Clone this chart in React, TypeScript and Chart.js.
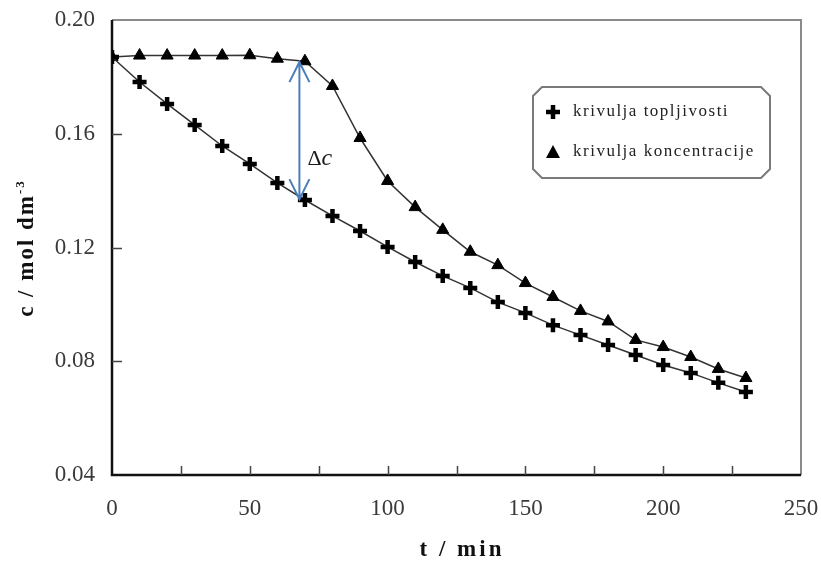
import React, { useEffect, useRef } from "react";
import { Chart, registerables } from "chart.js";

Chart.register(...registerables);

const times = [0, 10, 20, 30, 40, 50, 60, 70, 80, 90, 100, 110, 120, 130, 140, 150, 160, 170, 180, 190, 200, 210, 220, 230];
const solubility = [0.187, 0.1782, 0.1705, 0.1631, 0.1557, 0.1494, 0.1427, 0.1367, 0.1311, 0.1258, 0.1202, 0.1149, 0.11, 0.1058, 0.1008, 0.097, 0.0927, 0.0892, 0.0857, 0.0822, 0.0787, 0.0759, 0.0724, 0.0692];
const concentration = [0.187, 0.1875, 0.1875, 0.1875, 0.1875, 0.1876, 0.1864, 0.1855, 0.1768, 0.1585, 0.1434, 0.1342, 0.1262, 0.1185, 0.1138, 0.1075, 0.1026, 0.0977, 0.094, 0.0875, 0.085, 0.0815, 0.0773, 0.0741];
const seriesNames = ["krivulja topljivosti", "krivulja koncentracije"];
const xTitle = "t / min";
const yTitleMain = "c / mol dm";
const yTitleSup = "-3";
const deltaLabel = ["Δ", "c"];
const deltaArrow = { t: 68, top: 0.1852, bottom: 0.137 };

const SERIF = '"Liberation Serif", "Times New Roman", serif';

const decorPlugin = {
  id: "decor",
  beforeDatasetsDraw(chart: any) {
    const { ctx, chartArea: a, scales } = chart;
    const xs = scales.x;
    const ys = scales.y;
    ctx.save();
    ctx.strokeStyle = "#8a8a8a";
    ctx.lineWidth = 2;
    ctx.beginPath();
    ctx.moveTo(a.left, a.top);
    ctx.lineTo(a.right, a.top);
    ctx.lineTo(a.right, a.bottom);
    ctx.stroke();
    ctx.strokeStyle = "#111";
    ctx.lineWidth = 2.5;
    ctx.beginPath();
    ctx.moveTo(a.left, a.top);
    ctx.lineTo(a.left, a.bottom);
    ctx.lineTo(a.right, a.bottom);
    ctx.stroke();
    ctx.strokeStyle = "#444";
    ctx.lineWidth = 1.5;
    ctx.beginPath();
    for (let v = 0.08; v < 0.2; v += 0.04) {
      const y = Math.round(ys.getPixelForValue(v)) + 0.5;
      ctx.moveTo(a.left, y);
      ctx.lineTo(a.left + 10, y);
    }
    for (let t = 25; t < 250; t += 25) {
      const x = Math.round(xs.getPixelForValue(t)) + 0.5;
      ctx.moveTo(x, a.bottom);
      ctx.lineTo(x, a.bottom - 9);
    }
    ctx.stroke();
    ctx.restore();
  },
  afterDraw(chart: any) {
    const { ctx, chartArea: a, scales } = chart;
    const xs = scales.x;
    const ys = scales.y;
    ctx.save();
    ctx.fillStyle = "#111";
    ctx.font = `bold 23px ${SERIF}`;
    (ctx as any).letterSpacing = "3px";
    ctx.textAlign = "center";
    ctx.textBaseline = "alphabetic";
    ctx.fillText(xTitle, 462, 556);

    (ctx as any).letterSpacing = "2px";
    ctx.save();
    ctx.translate(33, 248);
    ctx.rotate(-Math.PI / 2);
    ctx.font = `bold 23px ${SERIF}`;
    const w1 = ctx.measureText(yTitleMain).width;
    ctx.font = `bold 13px ${SERIF}`;
    const w2 = ctx.measureText(yTitleSup).width;
    const start = -(w1 + w2) / 2;
    ctx.textAlign = "left";
    ctx.font = `bold 23px ${SERIF}`;
    ctx.fillText(yTitleMain, start, 0);
    ctx.font = `bold 13px ${SERIF}`;
    ctx.fillText(yTitleSup, start + w1, -9);
    ctx.restore();
    (ctx as any).letterSpacing = "0px";

    const ax = xs.getPixelForValue(deltaArrow.t);
    const ay1 = ys.getPixelForValue(deltaArrow.top);
    const ay2 = ys.getPixelForValue(deltaArrow.bottom);
    ctx.strokeStyle = "#4a7ebb";
    ctx.lineWidth = 2;
    ctx.beginPath();
    ctx.moveTo(ax, ay1);
    ctx.lineTo(ax, ay2);
    ctx.moveTo(ax - 10, ay1 + 20);
    ctx.lineTo(ax, ay1);
    ctx.lineTo(ax + 10, ay1 + 20);
    ctx.moveTo(ax - 10, ay2 - 20);
    ctx.lineTo(ax, ay2);
    ctx.lineTo(ax + 10, ay2 - 20);
    ctx.stroke();
    ctx.fillStyle = "#1a1a1a";
    ctx.textAlign = "left";
    ctx.font = `22px ${SERIF}`;
    const dx = ax + 8;
    ctx.fillText(deltaLabel[0], dx, 165);
    const dw = ctx.measureText(deltaLabel[0]).width;
    ctx.font = `italic 24px ${SERIF}`;
    ctx.fillText(deltaLabel[1], dx + dw, 165);

    const L = 533, T = 87, R = 770, B = 178, c = 9;
    ctx.strokeStyle = "#7a7a7a";
    ctx.lineWidth = 2;
    ctx.beginPath();
    ctx.moveTo(L + c, T);
    ctx.lineTo(R - c, T);
    ctx.lineTo(R, T + c);
    ctx.lineTo(R, B - c);
    ctx.lineTo(R - c, B);
    ctx.lineTo(L + c, B);
    ctx.lineTo(L, B - c);
    ctx.lineTo(L, T + c);
    ctx.closePath();
    ctx.stroke();
    ctx.strokeStyle = "#000";
    ctx.lineWidth = 4.5;
    ctx.beginPath();
    ctx.moveTo(553 - 7, 112);
    ctx.lineTo(553 + 7, 112);
    ctx.moveTo(553, 112 - 7);
    ctx.lineTo(553, 112 + 7);
    ctx.stroke();
    ctx.fillStyle = "#000";
    ctx.beginPath();
    ctx.moveTo(553, 145);
    ctx.lineTo(560, 158);
    ctx.lineTo(546, 158);
    ctx.closePath();
    ctx.fill();
    ctx.fillStyle = "#222";
    ctx.font = `17px ${SERIF}`;
    (ctx as any).letterSpacing = "1.5px";
    ctx.textBaseline = "middle";
    ctx.fillText(seriesNames[0], 573, 112);
    ctx.fillText(seriesNames[1], 573, 152);
    (ctx as any).letterSpacing = "0px";
    ctx.restore();
  },
};

export default function App() {
  const ref = useRef<HTMLCanvasElement | null>(null);
  useEffect(() => {
    if (!ref.current) return;
    const chart = new Chart(ref.current, {
      type: "line",
      data: {
        datasets: [
          {
            label: seriesNames[0],
            data: times.map((t, i) => ({ x: t, y: solubility[i] })),
            borderColor: "#333",
            borderWidth: 1.5,
            pointStyle: "cross",
            pointRadius: 7,
            pointBorderWidth: 4.5,
            pointBorderColor: "#000",
            pointBackgroundColor: "#000",
            tension: 0,
          },
          {
            label: seriesNames[1],
            data: times.map((t, i) => ({ x: t, y: concentration[i] })),
            borderColor: "#333",
            borderWidth: 1.5,
            pointStyle: "triangle",
            pointRadius: 7,
            pointBorderWidth: 1,
            pointBorderColor: "#000",
            pointBackgroundColor: "#000",
            tension: 0,
          },
        ],
      },
      options: {
        responsive: false,
        animation: false,
        layout: { padding: { left: 0, top: 20, right: 20, bottom: 0 } },
        plugins: { legend: { display: false }, tooltip: { enabled: false } },
        scales: {
          x: {
            type: "linear",
            min: 0,
            max: 250,
            border: { display: false },
            grid: { display: false, drawTicks: false },
            ticks: {
              stepSize: 50,
              padding: 20,
              color: "#3a3a3a",
              font: { family: SERIF, size: 23 },
              maxRotation: 0,
            },
            afterFit: (s: any) => {
              s.height = 88;
              s.paddingLeft = 0;
              s.paddingRight = 0;
            },
          },
          y: {
            type: "linear",
            min: 0.04,
            max: 0.2,
            border: { display: false },
            grid: { display: false, drawTicks: false },
            ticks: {
              stepSize: 0.04,
              padding: 17,
              color: "#3a3a3a",
              font: { family: SERIF, size: 23 },
              callback: (v: any) => Number(v).toFixed(2),
            },
            afterFit: (s: any) => {
              s.width = 112;
              s.paddingTop = 0;
              s.paddingBottom = 0;
            },
          },
        },
      },
      plugins: [decorPlugin],
    });
    return () => chart.destroy();
  }, []);
  return (
    <div style={{ position: "absolute", left: 0, top: 0, width: 821, height: 563, background: "#fff" }}>
      <canvas ref={ref} width={821} height={563} style={{ display: "block" }} />
    </div>
  );
}
